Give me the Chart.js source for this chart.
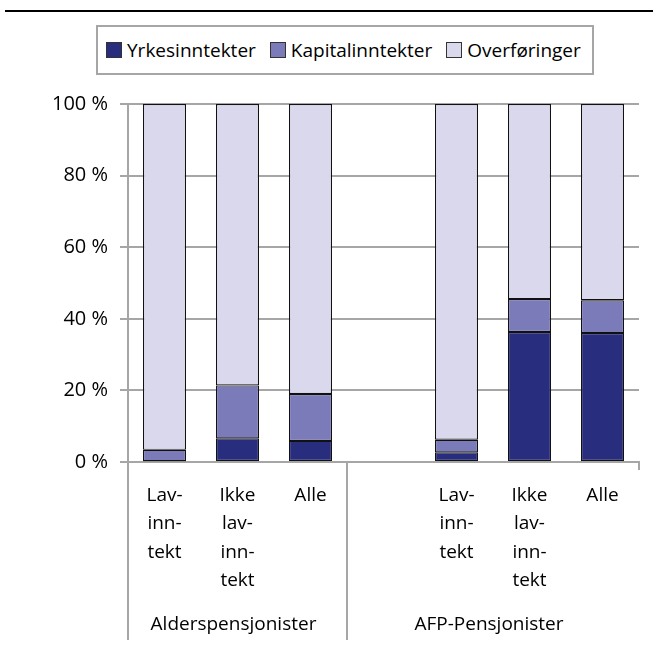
<!DOCTYPE html>
<html>
<head>
<meta charset="utf-8">
<script src="https://cdn.jsdelivr.net/npm/chart.js@4"></script>
<style>
  body { margin: 0; background: #fff; font-family: "Open Sans", sans-serif; }
  #wrap { position: relative; width: 653px; height: 651px; }
  #topline { position: absolute; left: 5px; top: 10px; width: 648px; height: 2px; background: #000; }
  #legend {
    position: absolute; left: 96px; top: 25px; width: 486px; height: 46px;
    border: 2px solid #a6a6a6; display: flex; align-items: center; padding-left: 8px;
    box-sizing: content-box; font-size: 19px; color: #000; z-index: 2; background: #fff;
  }
  #legend .item { display: flex; align-items: center; margin-right: 14px; }
  #legend .box { width: 14px; height: 14px; border: 1px solid #333; margin-right: 5px; }
  #chartBox { position: absolute; left: 0; top: 0; width: 653px; height: 651px; }
</style>
</head>
<body>
<div id="wrap">
  <div id="topline"></div>
  <div id="legend"></div>
  <div id="chartBox"><canvas id="chart"></canvas></div>
</div>
<script>
// categories (blank slot separates the two groups)
const categories = [
    ['Lav-', 'inn-', 'tekt'],
    ['Ikke', 'lav-', 'inn-', 'tekt'],
    ['Alle'],
    [''],
    ['Lav-', 'inn-', 'tekt'],
    ['Ikke', 'lav-', 'inn-', 'tekt'],
    ['Alle']
];
const groups = ['Alderspensjonister', 'AFP-Pensjonister'];
const groupStart = [0, 3];
const groupEnd = [2, 6];

const seriesNames = ['Yrkesinntekter', 'Kapitalinntekter', 'Overføringer'];
const yrkesinntekter = [0.2, 6.6, 5.9, null, 2.7, 36.3, 36.0];
const kapitalinntekter = [3.2, 14.8, 13.1, null, 3.5, 9.2, 9.2];
const overforinger = [96.6, 78.6, 81.0, null, 93.8, 54.5, 54.8];
const colors = ['#282d7e', '#7b7bba', '#d9d8ec'];

const yTicks = [0, 20, 40, 60, 80, 100];

const gridGray = '#a6a6a6';
const fontFamily = '"Open Sans", sans-serif';

// legend
const legend = document.getElementById('legend');
seriesNames.forEach((name, i) => {
    const item = document.createElement('div');
    item.className = 'item';
    item.innerHTML = '<div class="box" style="background:' + colors[i] + '"></div><span>' + name + '</span>';
    legend.appendChild(item);
});

const groupPlugin = {
    id: 'groupLabels',
    afterDraw(chart) {
        const ctx = chart.ctx;
        const x = chart.scales.x;
        const area = chart.chartArea;
        const half = (x.getPixelForValue(1) - x.getPixelForValue(0)) / 2;
        ctx.save();
        ctx.strokeStyle = gridGray;
        ctx.lineWidth = 2;
        // group separators below the axis
        const bounds = groupStart.map(i => x.getPixelForValue(i) - half);
        bounds.forEach(bx => {
            ctx.beginPath();
            ctx.moveTo(bx, area.bottom);
            ctx.lineTo(bx, 640);
            ctx.stroke();
        });
        const rightEnd = x.getPixelForValue(categories.length - 1) + half;
        ctx.beginPath();
        ctx.moveTo(rightEnd, area.bottom);
        ctx.lineTo(rightEnd, area.bottom + 8);
        ctx.stroke();
        // group labels
        ctx.fillStyle = '#000';
        ctx.font = '19px ' + fontFamily;
        ctx.textAlign = 'center';
        ctx.textBaseline = 'middle';
        groups.forEach((g, i) => {
            const l = x.getPixelForValue(groupStart[i]) - half;
            const r = x.getPixelForValue(groupEnd[i]) + half;
            ctx.fillText(g, (l + r) / 2 - 4, 625);
        });
        ctx.restore();
    }
};

new Chart(document.getElementById('chart'), {
    type: 'bar',
    data: {
        labels: categories,
        datasets: [yrkesinntekter, kapitalinntekter, overforinger].map((d, i) => ({
            label: seriesNames[i],
            data: d,
            backgroundColor: colors[i],
            borderColor: '#111',
            borderWidth: 1.2,
            borderSkipped: false,
            barPercentage: 0.59,
            categoryPercentage: 1
        }))
    },
    options: {
        responsive: true,
        maintainAspectRatio: false,
        animation: false,
        layout: { padding: { left: 0, right: 14, top: 104, bottom: 0 } },
        plugins: {
            legend: { display: false },
            tooltip: { enabled: false }
        },
        scales: {
            x: {
                stacked: true,
                grid: { display: false, drawTicks: false },
                border: { display: true, color: gridGray, width: 2 },
                ticks: {
                    autoSkip: false,
                    maxRotation: 0,
                    padding: 19,
                    color: '#000',
                    font: { family: fontFamily, size: 19, lineHeight: 1.5 }
                },
                afterFit(scale) { scale.height = 189; }
            },
            y: {
                stacked: true,
                min: 0,
                max: 100,
                afterBuildTicks(scale) { scale.ticks = yTicks.map(v => ({ value: v })); },
                grid: { color: gridGray, lineWidth: 2, tickLength: 8 },
                border: { display: true, color: gridGray, width: 2 },
                ticks: {
                    padding: 12,
                    color: '#000',
                    font: { family: fontFamily, size: 20 },
                    callback: v => v + ' %'
                },
                afterFit(scale) { scale.width = 128; }
            }
        }
    },
    plugins: [groupPlugin]
});
</script>
</body>
</html>
